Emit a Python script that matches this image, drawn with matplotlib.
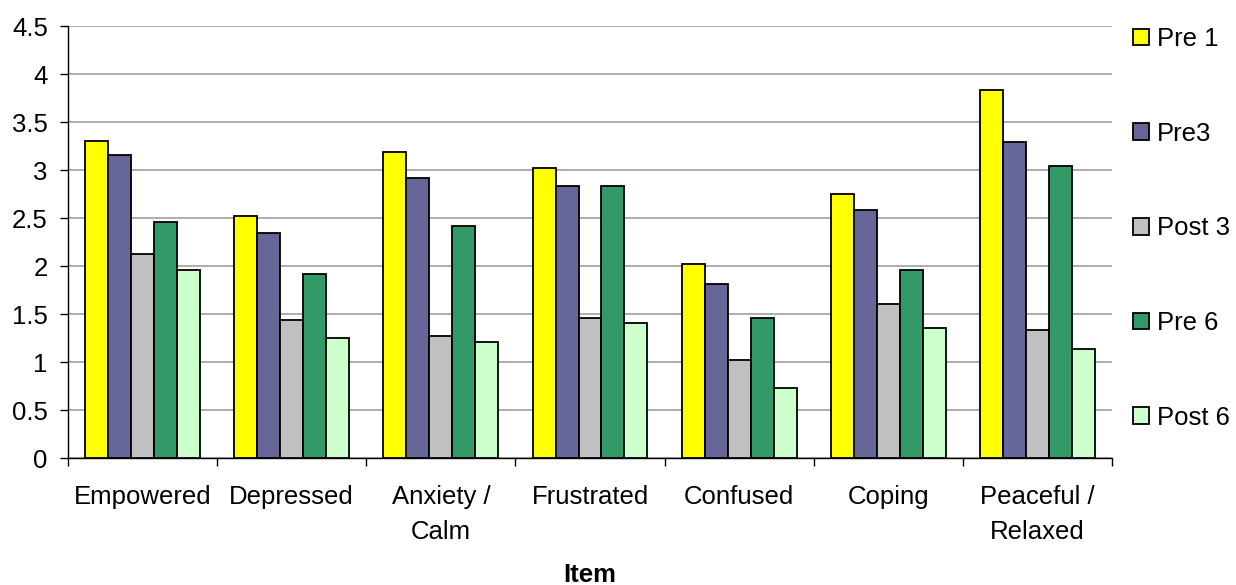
import matplotlib
matplotlib.use("Agg")
import matplotlib.pyplot as plt
import numpy as np
from matplotlib.patches import Patch

plt.rcParams['font.family'] = ['Liberation Sans', 'DejaVu Sans']

categories = ["Empowered", "Depressed", "Anxiety /\nCalm", "Frustrated",
              "Confused", "Coping", "Peaceful /\nRelaxed"]
series_names = ["Pre 1", "Pre3", "Post 3", "Pre 6", "Post 6"]
pre1 = [3.30, 2.52, 3.19, 3.02, 2.02, 2.75, 3.83]
pre3 = [3.16, 2.34, 2.92, 2.83, 1.81, 2.58, 3.29]
post3 = [2.13, 1.44, 1.27, 1.46, 1.02, 1.60, 1.33]
pre6 = [2.46, 1.92, 2.42, 2.83, 1.46, 1.96, 3.04]
post6 = [1.96, 1.25, 1.21, 1.41, 0.73, 1.35, 1.14]
colors = ["#ffff00", "#666699", "#c0c0c0", "#339966", "#ccffcc"]
y_ticks = [0, 0.5, 1, 1.5, 2, 2.5, 3, 3.5, 4, 4.5]
y_tick_labels = ["0", "0.5", "1", "1.5", "2", "2.5", "3", "3.5", "4", "4.5"]

values = [pre1, pre3, post3, pre6, post6]
FS = 18.5

fig = plt.figure(figsize=(12.36, 5.85), dpi=100)
ax = fig.add_axes([68 / 1236, 1 - 458 / 585, (1112 - 68) / 1236, (458 - 26) / 585])

n = len(categories)
x = np.arange(n)
bw = 0.154
for i, (vals, col, name) in enumerate(zip(values, colors, series_names)):
    offs = (i - 2) * bw
    ax.bar(x + offs, vals, width=bw, color=col, edgecolor="black",
           linewidth=1.3, zorder=3, label=name)

ax.set_xlim(-0.5, n - 0.5)
ax.set_ylim(0, 4.5)
ax.set_yticks(y_ticks)
ax.set_yticklabels(y_tick_labels, fontsize=FS)
ax.yaxis.grid(True, color="#a0a0a0", linewidth=1.2, zorder=0)
ax.set_axisbelow(True)

# category labels at centres, tick marks at category boundaries
ax.set_xticks(x)
ax.set_xticklabels(categories, fontsize=FS, linespacing=1.55)
ax.tick_params(axis="x", which="major", length=0, pad=19.5)
ax.set_xticks(np.arange(-0.5, n + 0.5, 1), minor=True)
ax.tick_params(axis="x", which="minor", length=5.5, direction="out", width=1)
ax.tick_params(axis="y", length=5.5, direction="out", width=1, pad=9)

for s in ["top", "right"]:
    ax.spines[s].set_visible(False)
for s in ["left", "bottom"]:
    ax.spines[s].set_color("black")
    ax.spines[s].set_linewidth(1.0)

ax.set_xlabel("Item", fontsize=FS, fontweight="bold", labelpad=14)

handles = [Patch(facecolor=c, edgecolor="black", linewidth=1.3) for c in colors]
leg = fig.legend(handles, series_names, loc="upper left",
                 bbox_to_anchor=(1133 / 1236, 1 - 27 / 585), frameon=False,
                 fontsize=FS, handlelength=0.62, handleheight=0.62,
                 handletextpad=0.3, labelspacing=2.75, borderaxespad=0,
                 borderpad=0)

fig.savefig("out.png", dpi=100)
